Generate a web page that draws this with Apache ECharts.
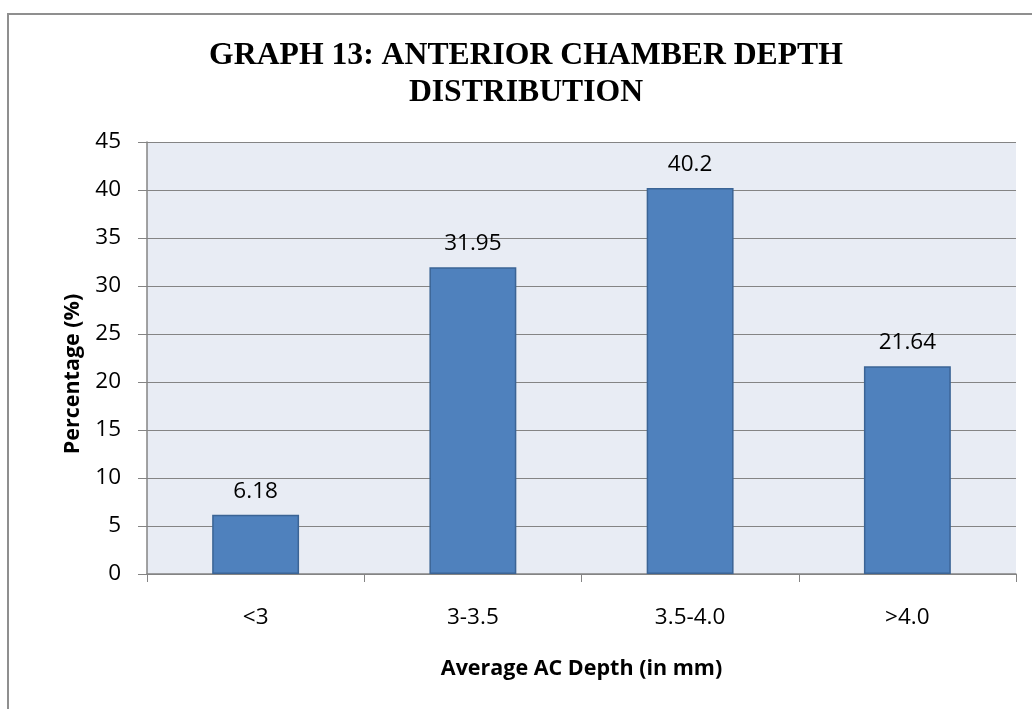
<!DOCTYPE html>
<html>
<head>
<meta charset="utf-8">
<script src="https://cdn.jsdelivr.net/npm/echarts@6/dist/echarts.min.js"></script>
<style>
html,body{margin:0;padding:0;background:#fff;}
#chart{width:1032px;height:709px;}
</style>
</head>
<body>
<div id="chart"></div>
<script>
const titleLines = ['GRAPH 13: ANTERIOR CHAMBER DEPTH', 'DISTRIBUTION'];
const categories = ['<3', '3-3.5', '3.5-4.0', '>4.0'];
const values = [6.18, 31.95, 40.2, 21.64];
const yMin = 0, yMax = 45, yInterval = 5;
const xAxisTitle = 'Average AC Depth (in mm)';
const yAxisTitle = 'Percentage (%)';

const sans = '"Open Sans", "Noto Sans", sans-serif';
const axisGray = '#848484';

const chart = echarts.init(document.getElementById('chart'), null, {renderer: 'canvas'});
chart.setOption({
  backgroundColor: '#ffffff',
  animation: false,
  title: {
    text: titleLines.join('\n'),
    left: 526,
    top: 37,
    padding: 0,
    textAlign: 'center',
    textStyle: {
      fontFamily: '"Liberation Serif", "Times New Roman", serif',
      fontWeight: 'bold',
      fontSize: 31.7,
      lineHeight: 37,
      color: '#000'
    }
  },
  graphic: [{
    type: 'rect',
    silent: true,
    shape: {x: 8, y: 14, width: 1100, height: 800},
    style: {fill: 'none', stroke: '#8f8f8f', lineWidth: 2}
  }],
  grid: {
    left: 147, right: 16, top: 142, bottom: 135,
    show: true,
    backgroundColor: '#e8ecf4',
    borderWidth: 0
  },
  xAxis: {
    type: 'category',
    data: categories,
    name: xAxisTitle,
    nameLocation: 'middle',
    nameGap: 84,
    nameTextStyle: {fontFamily: sans, fontWeight: 'bold', fontSize: 21.5, color: '#000'},
    axisLine: {show: true, lineStyle: {color: axisGray, width: 1.5}},
    axisTick: {show: true, length: 8, interval: 0, alignWithLabel: false, lineStyle: {color: axisGray, width: 1}},
    axisLabel: {margin: 32, fontFamily: sans, fontSize: 22.5, color: '#000', interval: 0},
    splitLine: {show: false}
  },
  yAxis: {
    type: 'value',
    min: yMin, max: yMax, interval: yInterval,
    name: yAxisTitle,
    nameLocation: 'middle',
    nameGap: 58,
    nameRotate: 90,
    nameTextStyle: {fontFamily: sans, fontWeight: 'bold', fontSize: 21.5, color: '#000', padding: [0, 32, 0, 0]},
    axisLine: {show: true, lineStyle: {color: axisGray, width: 1.5}},
    axisTick: {show: true, length: 9, lineStyle: {color: axisGray, width: 1}},
    axisLabel: {margin: 26, fontFamily: sans, fontSize: 22.5, color: '#000'},
    splitLine: {show: true, lineStyle: {color: axisGray, width: 1.2}}
  },
  series: [{
    type: 'bar',
    data: values,
    barWidth: '40%',
    itemStyle: {color: '#4f81bd', borderColor: '#3b6495', borderWidth: 1.5},
    label: {
      show: true,
      position: 'top',
      distance: 12,
      fontFamily: sans,
      fontSize: 22.5,
      color: '#000'
    }
  }]
});
</script>
</body>
</html>
